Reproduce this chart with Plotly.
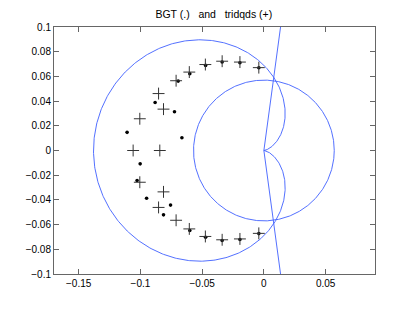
import numpy as np
import plotly.graph_objects as go

# tridqds eigenvalues (+)
tridqds_re = [-0.0041, -0.0194, -0.0338, -0.0474, -0.0604, -0.0711, -0.0853, -0.0813, -0.1005,
              -0.1059, -0.0843,
              -0.1005, -0.0813, -0.0853, -0.0711, -0.0604, -0.0474, -0.0338, -0.0194, -0.0041]
tridqds_im = [0.0671, 0.0716, 0.0723, 0.0696, 0.0635, 0.0565, 0.0461, 0.0335, 0.0257,
              0.0, 0.0,
              -0.0257, -0.0335, -0.0461, -0.0565, -0.0635, -0.0696, -0.0723, -0.0716, -0.0671]

# BGT eigenvalues (.)
bgt_re = [-0.0041, -0.0194, -0.0338, -0.0472, -0.0600, -0.0694, -0.0881, -0.0724, -0.1108, -0.0664,
          -0.1002, -0.1027, -0.0950, -0.0756, -0.0813, -0.0600, -0.0472, -0.0338, -0.0194, -0.0041]
bgt_im = [0.0670, 0.0711, 0.0716, 0.0689, 0.0622, 0.0562, 0.0389, 0.0314, 0.0147, 0.0103,
          -0.0108, -0.0243, -0.0387, -0.0442, -0.0521, -0.0648, -0.0703, -0.0729, -0.0721, -0.0673]

# boundary curves
cardioid_a = 0.069          # r = a (1 - cos t)
circle_r = 0.057            # circle centred at origin
ray_x = [0.0135, 0.0, 0.0135]
ray_y = [0.1, 0.0, -0.1]

t = np.linspace(0, 2 * np.pi, 721)
card_r = cardioid_a * (1 - np.cos(t))
card_x = card_r * np.cos(t)
card_y = card_r * np.sin(t)
circ_x = circle_r * np.cos(t)
circ_y = circle_r * np.sin(t)

blue = '#4060ff'
fig = go.Figure()
fig.add_trace(go.Scatter(x=card_x, y=card_y, mode='lines', line=dict(color=blue, width=0.9), hoverinfo='skip'))
fig.add_trace(go.Scatter(x=circ_x, y=circ_y, mode='lines', line=dict(color=blue, width=0.9), hoverinfo='skip'))
fig.add_trace(go.Scatter(x=ray_x, y=ray_y, mode='lines', line=dict(color=blue, width=0.9), hoverinfo='skip'))
fig.add_trace(go.Scatter(x=bgt_re, y=bgt_im, mode='markers',
                         marker=dict(symbol='circle', size=3.6, color='black', line=dict(width=0))))
fig.add_trace(go.Scatter(x=tridqds_re, y=tridqds_im, mode='markers',
                         marker=dict(symbol='cross-thin', size=8.5, color='#333333',
                                     line=dict(width=1, color='#333333'))))

axis_common = dict(showline=True, linecolor='#666666', linewidth=1, mirror='ticks',
                   ticks='inside', ticklen=5, tickcolor='#666666', tickwidth=1,
                   showgrid=False, zeroline=False,
                   tickfont=dict(family='Liberation Sans, Arial, sans-serif', size=10, color='black'))

# page body adds an 8px offset; the figure is sized to fill the remaining window
fig.update_layout(
    width=406, height=304,
    margin=dict(l=46, r=39, t=19, b=38),
    paper_bgcolor='white', plot_bgcolor='white',
    showlegend=False,
    title=dict(text='BGT (.)\u00a0\u00a0 and\u00a0\u00a0 tridqds (+)', x=0.507, xanchor='center',
               y=1 - 6 / 304, yanchor='middle', yref='container',
               font=dict(family='Liberation Sans, Arial, sans-serif', size=10.5, color='black')),
    xaxis=dict(range=[-0.17, 0.09], tickvals=[-0.15, -0.1, -0.05, 0, 0.05],
               ticktext=['\u22120.15', '\u22120.1', '\u22120.05', '0', '0.05'], **axis_common),
    yaxis=dict(range=[-0.1, 0.1], tickvals=[-0.1, -0.08, -0.06, -0.04, -0.02, 0, 0.02, 0.04, 0.06, 0.08, 0.1],
               ticktext=['\u22120.1', '\u22120.08', '\u22120.06', '\u22120.04', '\u22120.02', '0',
                         '0.02', '0.04', '0.06', '0.08', '0.1'], **axis_common),
)

fig.write_html('out.html')
